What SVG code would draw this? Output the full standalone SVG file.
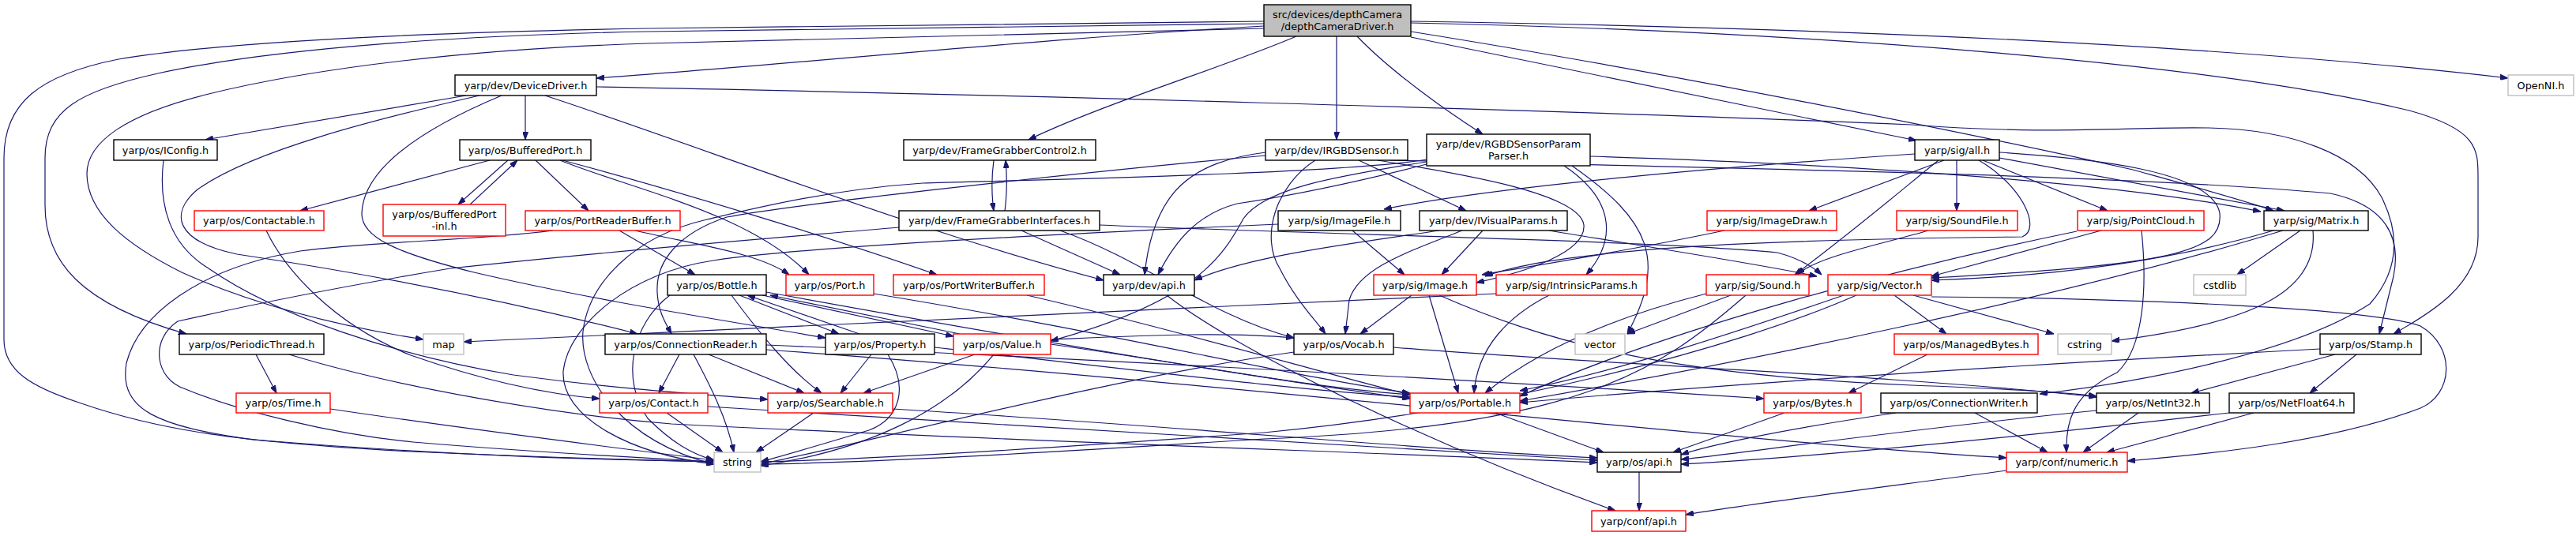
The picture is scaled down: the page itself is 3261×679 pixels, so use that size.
<svg xmlns="http://www.w3.org/2000/svg" width="3261" height="679" viewBox="0 0 3261 679">
<style>
rect{fill:#fff;stroke-width:1.4}
.b rect{stroke:#000}
.r rect{stroke:#ff0000}
.g rect{stroke:#bfbfbf}
.root rect{fill:#bfbfbf;stroke:#000}
text{font-family:"DejaVu Sans","Liberation Sans",sans-serif;font-size:12.85px;fill:#000;text-anchor:middle}
#edges path{fill:none;stroke:#191970;stroke-width:1.2;marker-end:url(#a)}
</style>
<defs>
<marker id="a" viewBox="0 0 10 7" refX="10" refY="3.5" markerWidth="10" markerHeight="7" orient="auto" markerUnits="userSpaceOnUse"><path d="M0,0L10,3.5L0,7z" fill="#191970" stroke="#191970"/></marker>
</defs>
<rect x="0" y="0" width="3261" height="679" style="fill:#fff;stroke:none"/>
<g id="edges">
<path d="M1600,33 C1300,50 1000,82 755,99"/>
<path d="M1600,27 C1300,30 1000,33 820,36 C600,40 300,50 150,75 C50,95 5,130 5,200 L5,430 C5,470 40,490 100,510 C200,545 300,560 520,572 C700,580 820,583 904,585"/>
<path d="M1600,30 C1300,34 1000,37 820,40 C600,44 350,60 200,93 C100,115 57,140 57,200 L57,260 C57,330 100,385 236,423"/>
<path d="M1600,36 C1300,42 1000,50 820,55 C600,62 400,85 260,120 C160,145 110,180 110,220 C110,270 160,310 230,345 C330,390 440,415 536,430"/>
<path d="M1641,46 C1550,85 1400,130 1302,177"/>
<path d="M1692,46 L1692,177"/>
<path d="M1718,46 C1760,90 1830,140 1877,170"/>
<path d="M1786,27 C2300,35 2800,55 3175,99"/>
<path d="M1786,29 C2300,40 2800,80 3050,140 C3140,165 3137,190 3137,230 L3137,300 C3137,360 3080,395 3030,423"/>
<path d="M1786,40 C2100,90 2500,170 2700,215 C2790,240 2845,255 2878,267"/>
<path d="M1786,47 L2426,178"/>
<path d="M590,121 L260,177"/>
<path d="M665,121 L665,177"/>
<path d="M607,121 C480,150 320,190 250,240 C215,270 220,305 300,322 C420,340 600,370 807,423"/>
<path d="M635,121 C530,165 460,215 458,270 C457,300 500,320 600,345 C750,380 900,403 1045,428"/>
<path d="M690,121 C900,190 1150,290 1397,355"/>
<path d="M755,110 C1200,118 2000,140 2420,158 C2600,172 2700,160 2796,162 C2900,164 2985,195 3015,250 C3040,300 3035,345 3000,385 C2900,450 2700,485 2582,499"/>
<path d="M207,203 C200,260 215,310 264,340 C350,400 500,450 650,475 C800,495 900,500 972,506"/>
<path d="M620,203 L380,267"/>
<path d="M643,203 L580,259"/>
<path d="M595,259 L655,203"/>
<path d="M678,203 L745,267"/>
<path d="M709,203 C800,240 950,270 1024,348"/>
<path d="M712,203 C850,240 1050,300 1186,348"/>
<path d="M337,292 C360,340 420,410 520,450 C620,485 700,500 759,505"/>
<path d="M784,292 L880,348"/>
<path d="M804,292 C880,310 960,320 999,348"/>
<path d="M700,292 C600,305 480,305 380,318 C250,340 175,400 160,460 C150,520 200,540 320,557 C600,580 800,583 904,585"/>
<path d="M1258,203 C1255,225 1255,245 1258,267"/>
<path d="M1272,267 C1275,245 1275,225 1273,203"/>
<path d="M1720,203 L1856,267"/>
<path d="M1602,193 C1510,205 1460,240 1449,348"/>
<path d="M1602,197 C1300,225 1000,260 920,275 C860,295 830,330 832,370 C833,395 843,410 850,423"/>
<path d="M1665,203 C1615,235 1595,300 1620,340 C1640,380 1665,405 1678,423"/>
<path d="M1744,203 C1850,220 2000,245 2005,285 C2008,320 1930,345 1869,358"/>
<path d="M1760,203 C2200,213 2700,222 2950,245 C3020,260 3040,300 3030,350 L3012,423"/>
<path d="M1980,210 C2040,250 2050,300 2008,348"/>
<path d="M1990,210 C2090,280 2110,330 2060,423"/>
<path d="M1806,208 C1700,235 1620,250 1566,258 C1520,270 1490,300 1466,348"/>
<path d="M1806,205 C1680,225 1600,240 1574,277 C1550,320 1520,380 1330,432"/>
<path d="M1806,202 C1700,220 1300,228 1168,232 C1050,240 950,265 895,278 C800,300 745,360 738,420 C733,480 790,560 904,588"/>
<path d="M2013,198 C2400,210 2700,235 2862,268"/>
<path d="M1293,292 L1418,348"/>
<path d="M1138,288 C1000,300 800,315 570,340 C420,365 300,390 225,407 C190,430 195,480 235,493 C300,520 420,550 523,560 C700,575 820,580 904,585"/>
<path d="M1342,292 C1450,330 1530,400 1638,428"/>
<path d="M1392,285 C1700,298 2100,305 2250,320 C2280,328 2295,338 2306,348"/>
<path d="M1712,292 L1778,348"/>
<path d="M1618,284 C1300,298 1000,315 903,330 C800,345 720,410 713,470 C710,530 800,575 904,588"/>
<path d="M1877,292 L1825,348"/>
<path d="M1851,292 C1780,320 1720,340 1708,380 L1703,423"/>
<path d="M1822,292 C1700,310 1580,325 1512,355"/>
<path d="M1961,292 C2100,315 2230,335 2300,350"/>
<path d="M2183,292 C2050,320 1950,335 1876,348"/>
<path d="M2441,292 C2380,310 2300,325 2275,348"/>
<path d="M2660,292 L2445,350"/>
<path d="M2629,293 C2400,340 2100,420 1924,502"/>
<path d="M2711,292 C2718,360 2715,440 2680,472 C2620,500 2615,540 2616,573"/>
<path d="M2912,292 L2832,348"/>
<path d="M2878,292 C2750,330 2600,350 2445,355"/>
<path d="M2928,292 C2935,370 2850,410 2673,432"/>
<path d="M2890,292 C2600,380 2200,460 1924,508"/>
<path d="M2398,374 L2464,423"/>
<path d="M2422,374 L2600,423"/>
<path d="M2445,376 C2700,378 3000,390 3064,413 C3110,440 3105,500 3064,517 C2950,560 2800,575 2693,584"/>
<path d="M2334,374 C2200,420 2050,470 1924,495"/>
<path d="M2350,374 C2200,440 1900,520 1600,548 C1300,570 1100,582 963,585"/>
<path d="M2191,374 L2060,423"/>
<path d="M2160,372 C2050,400 1950,440 1880,498"/>
<path d="M2210,374 C2100,470 2000,540 1600,556 C1300,575 1100,586 963,588"/>
<path d="M1787,374 L1722,423"/>
<path d="M1809,374 L1846,498"/>
<path d="M1822,374 C1950,430 2100,475 2420,488 C2550,493 2620,497 2654,502"/>
<path d="M1894,372 C1700,385 1300,400 587,433"/>
<path d="M1961,374 C1910,400 1870,440 1866,498"/>
<path d="M1638,446 C1400,480 1100,560 963,588"/>
<path d="M1764,440 C2000,460 2400,475 2654,503"/>
<path d="M1893,523 L2030,573"/>
<path d="M2259,523 L2118,573"/>
<path d="M2440,449 L2340,498"/>
<path d="M2400,523 C2250,545 2160,565 2128,576"/>
<path d="M2500,523 L2592,573"/>
<path d="M2707,523 L2637,573"/>
<path d="M2654,520 C2400,545 2200,575 2128,582"/>
<path d="M2853,523 L2667,573"/>
<path d="M2822,523 C2500,560 2250,582 2128,588"/>
<path d="M2956,449 L2774,498"/>
<path d="M2983,449 L2924,498"/>
<path d="M2937,442 C2600,460 2200,485 1924,510"/>
<path d="M2540,596 C2400,615 2200,640 2134,652"/>
<path d="M2075,598 L2075,647"/>
<path d="M1477,374 C1560,440 1800,560 2045,647"/>
<path d="M926,374 C960,420 1000,470 1040,498"/>
<path d="M936,374 L1062,423"/>
<path d="M965,374 L1207,426"/>
<path d="M848,374 C800,410 785,480 820,530 C850,560 875,575 904,583"/>
<path d="M970,370 C1300,430 1600,480 1785,505"/>
<path d="M1103,449 L1064,498"/>
<path d="M1088,423 L946,374"/>
<path d="M1124,449 C1150,490 1140,530 1100,545 C1050,560 1000,575 963,585"/>
<path d="M1183,440 C1450,470 1650,495 1785,503"/>
<path d="M1215,423 L975,374"/>
<path d="M1234,449 L1093,498"/>
<path d="M1258,449 C1200,520 1100,570 963,590"/>
<path d="M1330,436 C1500,460 1650,490 1785,500"/>
<path d="M1330,430 C1450,425 1550,420 1638,428"/>
<path d="M1030,523 L957,573"/>
<path d="M1130,518 C1500,540 1800,570 2022,580"/>
<path d="M844,523 L915,573"/>
<path d="M896,515 C1300,540 1800,570 2022,583"/>
<path d="M860,449 L834,498"/>
<path d="M878,449 C900,490 920,530 929,573"/>
<path d="M897,449 L1018,498"/>
<path d="M970,437 C1500,460 2000,490 2233,505"/>
<path d="M970,443 C1500,480 2200,560 2540,580"/>
<path d="M324,449 L350,498"/>
<path d="M366,449 C500,490 700,525 850,537 C1300,560 1800,575 2022,586"/>
<path d="M418,518 C600,545 800,570 904,583"/>
<path d="M1106,372 C1400,420 1650,480 1785,498"/>
<path d="M1300,374 C1500,420 1700,480 1785,500"/>
<path d="M2424,195 C2200,210 1900,235 1752,265"/>
<path d="M2461,203 L2290,267"/>
<path d="M2477,203 L2477,267"/>
<path d="M2510,203 L2668,267"/>
<path d="M2531,200 L2892,267"/>
<path d="M2454,203 C2420,230 2350,290 2272,348"/>
<path d="M2531,193 C2640,200 2800,215 2810,270 C2815,320 2750,335 2445,352"/>
<path d="M2505,203 C2560,235 2585,290 2560,300 C2400,302 2000,305 1880,350"/>
</g>
<g id="n_root" class="root"><rect x="1600" y="6" width="186" height="40"/><text x="1693" y="23">src/devices/depthCamera</text><text x="1693" y="38">/depthCameraDriver.h</text></g>
<g id="n_DeviceDriver" class="b"><rect x="576" y="95" width="179" height="26"/><text x="665.5" y="112.5">yarp/dev/DeviceDriver.h</text></g>
<g id="n_OpenNI" class="g"><rect x="3175" y="95" width="83" height="26"/><text x="3216.5" y="112.5">OpenNI.h</text></g>
<g id="n_IConfig" class="b"><rect x="144" y="177" width="131" height="26"/><text x="209.5" y="194.5">yarp/os/IConfig.h</text></g>
<g id="n_BufferedPort" class="b"><rect x="582" y="177" width="166" height="26"/><text x="665" y="194.5">yarp/os/BufferedPort.h</text></g>
<g id="n_FGC2" class="b"><rect x="1144" y="177" width="243" height="26"/><text x="1265.5" y="194.5">yarp/dev/FrameGrabberControl2.h</text></g>
<g id="n_IRGBDSensor" class="b"><rect x="1602" y="177" width="180" height="26"/><text x="1692" y="194.5">yarp/dev/IRGBDSensor.h</text></g>
<g id="n_RGBDPP" class="b"><rect x="1806" y="170" width="207" height="40"/><text x="1909.5" y="187">yarp/dev/RGBDSensorParam</text><text x="1909.5" y="202">Parser.h</text></g>
<g id="n_all" class="b"><rect x="2424" y="177" width="107" height="26"/><text x="2477.5" y="194.5">yarp/sig/all.h</text></g>
<g id="n_Contactable" class="r"><rect x="246" y="267" width="164" height="25"/><text x="328" y="284">yarp/os/Contactable.h</text></g>
<g id="n_BufferedPortInl" class="r"><rect x="485" y="259" width="155" height="40"/><text x="562.5" y="276">yarp/os/BufferedPort</text><text x="562.5" y="291">-inl.h</text></g>
<g id="n_PortReaderBuffer" class="r"><rect x="665" y="267" width="196" height="25"/><text x="763" y="284">yarp/os/PortReaderBuffer.h</text></g>
<g id="n_FGI" class="b"><rect x="1138" y="267" width="254" height="25"/><text x="1265" y="284">yarp/dev/FrameGrabberInterfaces.h</text></g>
<g id="n_ImageFile" class="b"><rect x="1618" y="267" width="155" height="25"/><text x="1695.5" y="284">yarp/sig/ImageFile.h</text></g>
<g id="n_IVisualParams" class="b"><rect x="1797" y="267" width="187" height="25"/><text x="1890.5" y="284">yarp/dev/IVisualParams.h</text></g>
<g id="n_ImageDraw" class="r"><rect x="2161" y="267" width="164" height="25"/><text x="2243" y="284">yarp/sig/ImageDraw.h</text></g>
<g id="n_SoundFile" class="r"><rect x="2401" y="267" width="153" height="25"/><text x="2477.5" y="284">yarp/sig/SoundFile.h</text></g>
<g id="n_PointCloud" class="r"><rect x="2630" y="267" width="160" height="25"/><text x="2710" y="284">yarp/sig/PointCloud.h</text></g>
<g id="n_Matrix" class="b"><rect x="2866" y="267" width="132" height="25"/><text x="2932" y="284">yarp/sig/Matrix.h</text></g>
<g id="n_Bottle" class="b"><rect x="845" y="348" width="125" height="26"/><text x="907.5" y="365.5">yarp/os/Bottle.h</text></g>
<g id="n_Port" class="r"><rect x="995" y="348" width="111" height="26"/><text x="1050.5" y="365.5">yarp/os/Port.h</text></g>
<g id="n_PortWriterBuffer" class="r"><rect x="1131" y="348" width="191" height="26"/><text x="1226.5" y="365.5">yarp/os/PortWriterBuffer.h</text></g>
<g id="n_devapi" class="b"><rect x="1397" y="348" width="115" height="26"/><text x="1454.5" y="365.5">yarp/dev/api.h</text></g>
<g id="n_Image" class="r"><rect x="1739" y="348" width="130" height="26"/><text x="1804" y="365.5">yarp/sig/Image.h</text></g>
<g id="n_IntrinsicParams" class="r"><rect x="1894" y="348" width="191" height="26"/><text x="1989.5" y="365.5">yarp/sig/IntrinsicParams.h</text></g>
<g id="n_Sound" class="r"><rect x="2160" y="348" width="130" height="26"/><text x="2225" y="365.5">yarp/sig/Sound.h</text></g>
<g id="n_Vector" class="r"><rect x="2314" y="348" width="131" height="26"/><text x="2379.5" y="365.5">yarp/sig/Vector.h</text></g>
<g id="n_cstdlib" class="g"><rect x="2777" y="348" width="66" height="26"/><text x="2810" y="365.5">cstdlib</text></g>
<g id="n_PeriodicThread" class="b"><rect x="227" y="423" width="183" height="26"/><text x="318.5" y="440.5">yarp/os/PeriodicThread.h</text></g>
<g id="n_map" class="g"><rect x="536" y="423" width="51" height="26"/><text x="561.5" y="440.5">map</text></g>
<g id="n_ConnectionReader" class="b"><rect x="766" y="423" width="204" height="26"/><text x="868" y="440.5">yarp/os/ConnectionReader.h</text></g>
<g id="n_Property" class="b"><rect x="1045" y="423" width="138" height="26"/><text x="1114" y="440.5">yarp/os/Property.h</text></g>
<g id="n_Value" class="r"><rect x="1207" y="423" width="123" height="26"/><text x="1268.5" y="440.5">yarp/os/Value.h</text></g>
<g id="n_Vocab" class="b"><rect x="1638" y="423" width="126" height="26"/><text x="1701" y="440.5">yarp/os/Vocab.h</text></g>
<g id="n_vector" class="g"><rect x="1994" y="423" width="63" height="26"/><text x="2025.5" y="440.5">vector</text></g>
<g id="n_ManagedBytes" class="r"><rect x="2398" y="423" width="182" height="26"/><text x="2489" y="440.5">yarp/os/ManagedBytes.h</text></g>
<g id="n_cstring" class="g"><rect x="2605" y="423" width="68" height="26"/><text x="2639" y="440.5">cstring</text></g>
<g id="n_Stamp" class="b"><rect x="2937" y="423" width="128" height="26"/><text x="3001" y="440.5">yarp/os/Stamp.h</text></g>
<g id="n_Time" class="r"><rect x="299" y="498" width="119" height="25"/><text x="358.5" y="515">yarp/os/Time.h</text></g>
<g id="n_Contact" class="r"><rect x="759" y="498" width="137" height="25"/><text x="827.5" y="515">yarp/os/Contact.h</text></g>
<g id="n_Searchable" class="r"><rect x="972" y="498" width="158" height="25"/><text x="1051" y="515">yarp/os/Searchable.h</text></g>
<g id="n_Portable" class="r"><rect x="1785" y="498" width="139" height="25"/><text x="1854.5" y="515">yarp/os/Portable.h</text></g>
<g id="n_Bytes" class="r"><rect x="2233" y="498" width="123" height="25"/><text x="2294.5" y="515">yarp/os/Bytes.h</text></g>
<g id="n_ConnectionWriter" class="b"><rect x="2381" y="498" width="198" height="25"/><text x="2480" y="515">yarp/os/ConnectionWriter.h</text></g>
<g id="n_NetInt32" class="b"><rect x="2654" y="498" width="143" height="25"/><text x="2725.5" y="515">yarp/os/NetInt32.h</text></g>
<g id="n_NetFloat64" class="b"><rect x="2822" y="498" width="158" height="25"/><text x="2901" y="515">yarp/os/NetFloat64.h</text></g>
<g id="n_string" class="g"><rect x="904" y="573" width="59" height="25"/><text x="933.5" y="590">string</text></g>
<g id="n_osapi" class="b"><rect x="2022" y="573" width="106" height="25"/><text x="2075" y="590">yarp/os/api.h</text></g>
<g id="n_numeric" class="r"><rect x="2540" y="573" width="153" height="25"/><text x="2616.5" y="590">yarp/conf/numeric.h</text></g>
<g id="n_confapi" class="r"><rect x="2015" y="647" width="119" height="26"/><text x="2074.5" y="664.5">yarp/conf/api.h</text></g>
</svg>
